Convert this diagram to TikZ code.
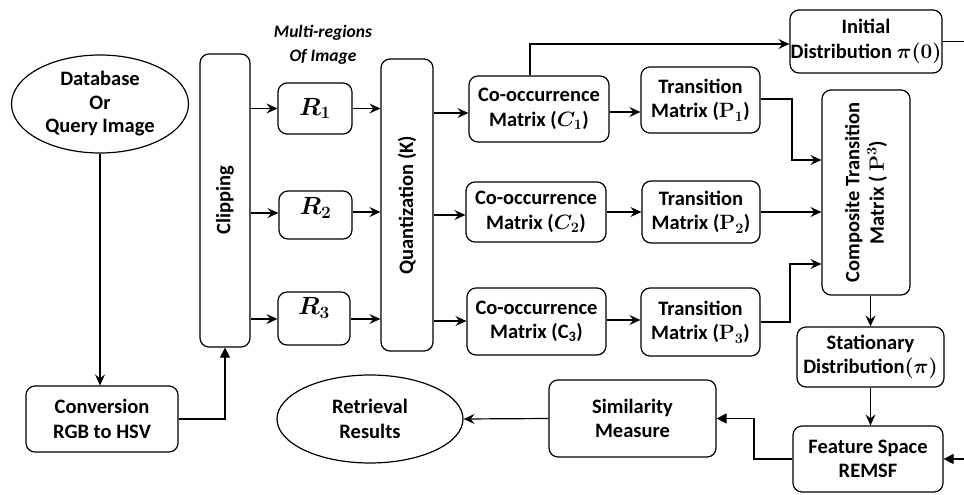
\documentclass[tikz,border=0pt]{standalone}
\usepackage{fontspec}
\setmainfont{Carlito}
\usepackage{amsmath,bm}
\usetikzlibrary{arrows.meta,shapes.geometric}
\newcommand\fsz{\fontsize{20.5}{24.5}\selectfont}
\newcommand\rsz{\fontsize{23}{26}\selectfont}
\begin{document}
\begin{tikzpicture}[x=1pt,y=-1pt,
  box/.style={draw, rounded corners=9pt, line width=1.2pt, align=center, font=\bfseries\boldmath\fsz, inner sep=0pt},
  oval/.style={draw, ellipse, line width=1.2pt, align=center, font=\bfseries\fsz, inner sep=0pt},
  txt/.style={align=center, font=\bfseries\boldmath\fsz, inner sep=0pt},
  rtxt/.style={align=center, font=\boldmath\rsz, inner sep=0pt},
  arr/.style={line width=1.2pt, -{Stealth[length=11pt,width=10pt,inset=4pt]}},
  arrT/.style={line width=1.2pt, -{Triangle[length=10pt,width=10pt]}},
  ln/.style={line width=1.2pt}]
\useasboundingbox (0,0) rectangle (964,495);

% nodes
\node[oval, minimum width=177pt, minimum height=98pt] (db) at (100,104) {Database\\[-1pt]Or\\[-1pt]Query Image};
\node[box, minimum width=50pt, minimum height=293pt] (clip) at (225,200.5) {};
\node[txt, rotate=90] (cliptxt) at (clip.center) {Clipping};
\node[box, minimum width=74pt, minimum height=51pt] (R1) at (315,108.5) {};
\node[rtxt] (R1t) at (315,108.5) {$\bm{R_1}$};
\node[box, minimum width=73pt, minimum height=48pt] (R2) at (315.5,215) {};
\node[rtxt] (R2t) at (315.5,208) {$\bm{R_2}$};
\node[box, minimum width=72pt, minimum height=53pt] (R3) at (314,318.5) {};
\node[rtxt] (R3t) at (314,308) {$\bm{R_3}$};
\node[box, minimum width=52pt, minimum height=292pt] (quant) at (407,205) {};
\node[txt, rotate=90] (quanttxt) at (quant.center) {Quantization (K)};
\node[align=center, font=\bfseries\itshape\fontsize{17.5}{24}\selectfont, inner sep=0pt] (multi) at (323,45) {Multi-regions\\Of Image};

\node[box, minimum width=140pt, minimum height=66pt] (C1) at (539,109) {Co-occurrence\\Matrix ($C_1$)};
\node[box, minimum width=140pt, minimum height=60pt] (C2) at (536,212) {Co-occurrence\\Matrix ($C_2$)};
\node[box, minimum width=139pt, minimum height=67pt] (C3) at (536.5,321.5) {Co-occurrence\\Matrix (C\textsubscript{3})};

\node[box, minimum width=119pt, minimum height=66pt] (P1) at (700.5,100) {Transition\\Matrix ($\mathbf{P}_1$)};
\node[box, minimum width=118pt, minimum height=62pt] (P2) at (701,212) {Transition\\Matrix ($\mathbf{P}_2$)};
\node[box, minimum width=119pt, minimum height=68pt] (P3) at (700.5,322) {Transition\\Matrix ($\mathbf{P}_3$)};

\node[box, minimum width=88pt, minimum height=205pt] (comp) at (866,192.5) {};
\node[txt, rotate=90] (comptxt) at (comp.center) {Composite Transition\\Matrix ( $\mathbf{P}^3$)};

\node[box, minimum width=152pt, minimum height=63pt] (init) at (866,41.5) {Initial\\Distribution $\bm{\pi(0)}$};
\node[box, minimum width=147pt, minimum height=60pt] (stat) at (870.5,357) {Stationary\\Distribution$\bm{(\pi)}$};
\node[box, minimum width=150pt, minimum height=66pt] (feat) at (868,459) {Feature Space\\REMSF};
\node[box, minimum width=167pt, minimum height=77pt] (sim) at (632.5,418.5) {Similarity\\Measure};
\node[oval, minimum width=186pt, minimum height=88pt] (ret) at (370,419) {Retrieval\\Results};
\node[box, minimum width=152pt, minimum height=66pt] (conv) at (102,419) {Conversion\\RGB to HSV};

\coordinate (out1) at (964,41.5);
\coordinate (in2) at (964,459);

% connectors
\draw[arr] (db.south) -- (db.south |- conv.north);
\draw[arrT] (conv.east) -| (clip.south);
\draw[arr] (clip.east |- R1.west) -- (R1.west);
\draw[arr] (clip.east |- 0,213) -- (R2.west |- 0,213);
\draw[arr] (clip.east |- 0,319) -- (R3.west |- 0,319);
\draw[arr] (R1.east) -- (quant.west |- R1.east);
\draw[arr] (R2.east |- 0,212) -- (quant.west |- 0,212);
\draw[arr] (R3.east |- 0,319) -- (quant.west |- 0,319);
\draw[arr] (quant.east |- 0,113) -- (C1.west |- 0,113);
\draw[arr] (quant.east |- 0,215) -- (C2.west |- 0,215);
\draw[arr] (quant.east |- 0,321) -- (C3.west |- 0,321);
\draw[arr] (C1.east |- 0,112) -- (P1.west |- 0,112);
\draw[arr] (C2.east) -- (P2.west);
\draw[arr] (C3.east |- 0,320) -- (P3.west |- 0,320);
\draw[arr] (P1.east |- 0,99) -| (792,160) -- (comp.west |- 0,160);
\draw[arr] (P2.east) -- (comp.west |- P2.east);
\draw[arr] (P3.east) -| (790,264) -- (comp.west |- 0,264);
\draw[arr] ([xshift=-9pt]C1.north) |- (init.west |- 0,44);
\draw[ln] (init.east) -- (out1);
\draw[arr] (stat.north |- comp.south) -- (stat.north);
\draw[arr] (stat.south) -- (stat.south |- feat.north);
\draw[arrT] (in2) -- (feat.east);
\draw[arrT] (feat.west) -| (754,418.5) -- (sim.east);
\draw[arr] (sim.west) -- (ret.east);
\end{tikzpicture}
\end{document}
